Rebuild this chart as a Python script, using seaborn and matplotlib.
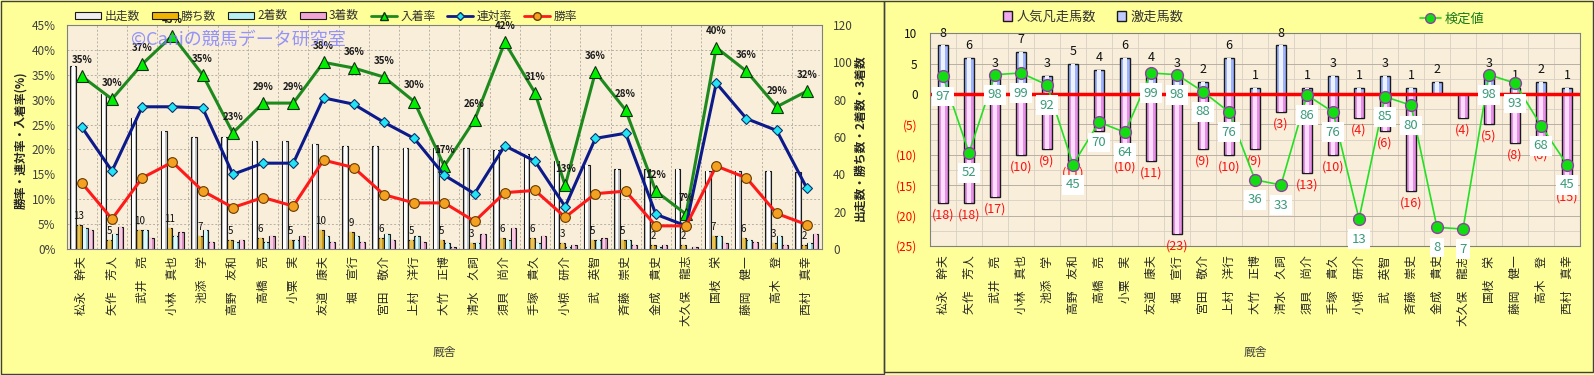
import numpy as np
import pandas as pd
import matplotlib
matplotlib.use('Agg')
import matplotlib.pyplot as plt
import seaborn as sns
from matplotlib.patches import Rectangle, Patch
from matplotlib.lines import Line2D
from matplotlib.ticker import MultipleLocator, FixedLocator, FuncFormatter

# data
trainers = ['松永　幹夫', '矢作　芳人', '武井　亮', '小林　真也', '池添　学', '高野　友和',
            '高橋　亮', '小栗　実', '友道　康夫', '堀　宣行', '宮田　敬介', '上村　洋行',
            '大竹　正博', '清水　久詞', '須貝　尚介', '手塚　貴久', '小椋　研介', '武　英智',
            '斉藤　崇史', '金成　貴史', '大久保　龍志', '国枝　栄', '藤岡　健一', '高木　登',
            '西村　真幸']
starts = [98, 83, 70, 63, 60, 60, 58, 58, 56, 55, 55, 54, 54, 54, 53, 51, 47, 45, 43, 43, 43, 42, 42, 42, 41]
wins = [13, 5, 10, 11, 7, 5, 6, 5, 10, 9, 6, 5, 5, 3, 6, 6, 3, 5, 5, 2, 2, 7, 6, 3, 2]
seconds = [11, 8, 10, 7, 10, 4, 4, 5, 7, 7, 8, 7, 3, 3, 5, 3, 1, 5, 5, 1, 0, 7, 5, 7, 3]
thirds = [10, 12, 6, 9, 4, 5, 7, 7, 4, 4, 5, 4, 1, 8, 11, 7, 2, 6, 2, 2, 1, 3, 4, 2, 8]

surge = [8, 6, 3, 7, 3, 5, 4, 6, 4, 3, 2, 6, 1, 8, 1, 3, 1, 3, 1, 2, 0, 3, 1, 2, 1]
flop = [18, 18, 17, 10, 9, 11, 6, 10, 11, 23, 9, 10, 9, 3, 13, 10, 4, 6, 16, 0, 4, 5, 8, 8, 15]
score = [97, 52, 98, 99, 92, 45, 70, 64, 99, 98, 88, 76, 36, 33, 86, 76, 13, 85, 80, 8, 7, 98, 93, 68, 45]

kinds = ['出走数', '勝ち数', '2着数', '3着数']

sns.set_style('white')
plt.rcParams['font.family'] = ['Noto Sans CJK JP', 'DejaVu Sans']

W, H = 1594, 375
BG = '#FFFF99'
PLOT_BG = '#F8EEDA'
GRID = '#B8B0A4'
fig = plt.figure(figsize=(W / 100, H / 100), dpi=100, facecolor=BG)

# panel frames
fig.add_artist(Rectangle((0.5 / W, 1.5 / H), 883 / W, (H - 2.5) / H, transform=fig.transFigure,
                         fill=False, edgecolor='#404040', lw=1))
fig.add_artist(Rectangle((883.5 / W, 3.5 / H), (W - 885) / W, (H - 4.5) / H, transform=fig.transFigure,
                         fill=False, edgecolor='#404040', lw=1))

n = len(trainers)
idx = np.arange(n)
st = np.array(starts, dtype=float)
win_rate = np.array(wins) / st * 100
ren_rate = (np.array(wins) + np.array(seconds)) / st * 100
place_rate = (np.array(wins) + np.array(seconds) + np.array(thirds)) / st * 100

# ---------------- left panel ----------------
ax = fig.add_axes([66.7 / W, (H - 249) / H, (822 - 66.7) / W, 224 / H])
ax.set_facecolor(PLOT_BG)
df_bars = pd.DataFrame({'厩舎': trainers * 4,
                        '種別': [k for k in kinds for _ in range(n)],
                        '数': starts + wins + seconds + thirds})
base_cols = ['#C4C4C4', '#E8A800', '#8ED8E0', '#E486C4']
light_cols = ['#FFFFFF', '#FFD040', '#D8FFFF', '#FFC4E4']
sns.barplot(data=df_bars, x='厩舎', y='数', hue='種別', order=trainers, hue_order=kinds,
            palette=base_cols, width=0.76, edgecolor='#1A1A1A', linewidth=0.8,
            errorbar=None, legend=False, ax=ax)
sns.barplot(data=df_bars, x='厩舎', y='数', hue='種別', order=trainers, hue_order=kinds,
            palette=light_cols, width=0.76, gap=0.5, linewidth=0,
            errorbar=None, legend=False, ax=ax)
ax.set_ylim(0, 120)
ax.yaxis.set_major_locator(MultipleLocator(20))
ax.yaxis.set_minor_locator(FixedLocator(np.arange(1, 9) * 120 / 9))
ax.xaxis.set_minor_locator(FixedLocator(np.arange(0.5, n - 1, 1)))
ax.grid(which='minor', axis='both', color=GRID, ls=(0, (2, 2)), lw=0.7)
ax.set_axisbelow(True)
ax.set_xticks(idx)
ax.set_xticklabels(trainers, rotation=90, fontsize=8.5)
ax.tick_params(axis='x', length=0, pad=5)
ax.set_xlabel('')
ax.set_ylabel('')
for s in ax.spines.values():
    s.set_color('#808080')

for i, w in enumerate(wins):
    ax.annotate(str(w), (i - 0.095, w), xytext=(0, 3), textcoords='offset points',
                ha='center', va='bottom', fontsize=7, color='#111111')

axl = ax.twinx()
# twinx moves the original ticks to the left: put the count axis back on the right
ax.yaxis.tick_right()
ax.tick_params(axis='y', which='major', labelsize=8.5, labelcolor='#404040', length=0, pad=8)
ax.tick_params(which='minor', length=0)
sns.lineplot(x=idx, y=place_rate, ax=axl, color='#1E8A1E', lw=2.2, marker='^', markersize=8,
             markerfacecolor='#00EE00', markeredgecolor='#103010', markeredgewidth=0.8)
sns.lineplot(x=idx, y=ren_rate, ax=axl, color='#0C1A8A', lw=2.2, marker='D', markersize=5.5,
             markerfacecolor='#22E4F4', markeredgecolor='#10306A', markeredgewidth=0.8)
sns.lineplot(x=idx, y=win_rate, ax=axl, color='#FF1A1A', lw=2.2, marker='o', markersize=7,
             markerfacecolor='#F4A020', markeredgecolor='#6A3A00', markeredgewidth=0.8)
axl.set_ylim(0, 45)
axl.yaxis.set_major_locator(MultipleLocator(5))
axl.yaxis.set_major_formatter(FuncFormatter(lambda v, p: f'{int(round(v))}%'))
axl.yaxis.tick_left()
axl.tick_params(axis='y', labelsize=8.5, labelcolor='#404040', length=0, pad=8)
axl.set_ylabel('')
for s in axl.spines.values():
    s.set_visible(False)
for i, r in enumerate(place_rate):
    axl.annotate(f'{round(r)}%', (i, r), xytext=(0, 8), textcoords='offset points',
                 ha='center', va='bottom', fontsize=7, fontweight='bold', color='#1A1A1A')
ax.set_xlim(-0.5, n - 0.5)

fig.text(238 / W, 1 - 40 / H, '©Caniの競馬データ研究室', color='#7C7CFF', alpha=0.8,
         fontsize=13, ha='center', va='center')
fig.text(21 / W, 1 - 140 / H, '勝率・連対率・入着率(%)', rotation=90, fontsize=8.5,
         fontweight='bold', ha='center', va='center')
fig.text(860 / W, 1 - 138 / H, '出走数・勝ち数・2着数・3着数', rotation=90, fontsize=8.5,
         fontweight='bold', ha='center', va='center')
fig.text(444 / W, 1 - 352 / H, '厩舎', fontsize=8.5, color='#404040', ha='center', va='center')

handles = [Patch(facecolor=c, edgecolor='#1A1A1A', lw=0.8) for c in ['#EEEEEE', '#F0B400', '#B8F0F4', '#F4A4D4']]
handles += [Line2D([], [], color='#1E8A1E', lw=2, marker='^', markersize=6, markerfacecolor='#00EE00', markeredgecolor='#103010'),
            Line2D([], [], color='#0C1A8A', lw=2, marker='D', markersize=4.5, markerfacecolor='#22E4F4', markeredgecolor='#10306A'),
            Line2D([], [], color='#FF1A1A', lw=2, marker='o', markersize=5.5, markerfacecolor='#F4A020', markeredgecolor='#6A3A00')]
fig.legend(handles, kinds + ['入着率', '連対率', '勝率'], loc='center', bbox_to_anchor=(326 / W, 1 - 16 / H),
           ncol=7, frameon=False, fontsize=8.5, handlelength=2.2, handleheight=0.5,
           columnspacing=1.0, handletextpad=0.3, labelcolor='#333333')

# ---------------- right panel ----------------
axr = fig.add_axes([930 / W, (H - 246) / H, 650 / W, 212.7 / H])
axr.set_facecolor(PLOT_BG)
df_r = pd.DataFrame({'厩舎': trainers, '激走': surge, '凡走': [-f for f in flop]})
sns.barplot(data=df_r, x='厩舎', y='凡走', order=trainers, color='#E890E8', width=0.4,
            edgecolor='#1A1A1A', linewidth=1, saturation=1, errorbar=None, ax=axr)
sns.barplot(data=df_r, x='厩舎', y='凡走', order=trainers, color='#FFDDFF', width=0.16,
            linewidth=0, saturation=1, errorbar=None, ax=axr)
sns.barplot(data=df_r, x='厩舎', y='激走', order=trainers, color='#9EB4FF', width=0.4,
            edgecolor='#1A1A1A', linewidth=1, saturation=1, errorbar=None, ax=axr)
sns.barplot(data=df_r, x='厩舎', y='激走', order=trainers, color='#EEF2FF', width=0.16,
            linewidth=0, saturation=1, errorbar=None, ax=axr)
axr.axhline(0, color='#FF0000', lw=2.5, zorder=2)
axr.set_ylim(-25, 10)
axr.set_yticks(np.arange(-25, 11, 5))
axr.set_yticklabels([f'({-v})' if v < 0 else str(v) for v in range(-25, 11, 5)])
for lab, v in zip(axr.get_yticklabels(), range(-25, 11, 5)):
    lab.set_color('#FF0000' if v < 0 else '#111111')
axr.tick_params(axis='y', labelsize=8.5, length=0, pad=9)
axr.yaxis.set_minor_locator(FixedLocator(np.arange(-22.5, 10, 5)))
axr.xaxis.set_minor_locator(FixedLocator(np.arange(0.5, n - 1, 1)))
axr.grid(which='major', axis='y', color=GRID, lw=0.7)
axr.grid(which='minor', axis='both', color='#D8D0C4', lw=0.6)
axr.set_axisbelow(True)
axr.tick_params(which='minor', length=0)
axr.set_xticks(idx)
axr.set_xticklabels(trainers, rotation=90, fontsize=8.5)
axr.tick_params(axis='x', length=0, pad=7)
axr.set_xlabel('')
axr.set_ylabel('')
for s in axr.spines.values():
    s.set_color('#808080')
for i, (s, f) in enumerate(zip(surge, flop)):
    if s > 0:
        axr.annotate(str(s), (i, s), xytext=(0, 4), textcoords='offset points',
                     ha='center', va='bottom', fontsize=9, color='#111111')
    if f > 0:
        axr.annotate(f'({f})', (i, -f), xytext=(0, -4), textcoords='offset points',
                     ha='center', va='top', fontsize=9, color='#FF1010')

axr2 = axr.twinx()
axr.yaxis.tick_left()
sns.lineplot(x=idx, y=score, ax=axr2, color='#22E022', lw=1.2, marker='o', markersize=8.5,
             markerfacecolor='#11DD11', markeredgecolor='#9040A0', markeredgewidth=1)
axr2.set_ylim(-3.0, 122.4)
axr2.set_yticks([])
axr2.set_ylabel('')
for s in axr2.spines.values():
    s.set_visible(False)
for i, v in enumerate(score):
    axr2.annotate(str(v), (i, v), xytext=(0, -14.5), textcoords='offset points',
                  ha='center', va='center', fontsize=9.5, color='#3A9A7A',
                  bbox=dict(boxstyle='square,pad=0.25', fc='white', ec='none'))
axr.set_xlim(-0.5, n - 0.5)

fig.text(1255 / W, 1 - 352 / H, '厩舎', fontsize=8.5, color='#404040', ha='center', va='center')

rh = [Patch(facecolor='#F0A8F0', edgecolor='#1A1A1A', lw=1), Patch(facecolor='#C0CCFF', edgecolor='#1A1A1A', lw=1)]
fig.legend(rh, ['人気凡走馬数', '激走馬数'], loc='center', bbox_to_anchor=(1093 / W, 1 - 17 / H),
           ncol=2, frameon=False, fontsize=9.5, handlelength=0.7, handleheight=0.7,
           columnspacing=1.6, handletextpad=0.3, labelcolor='#333333')
sh = [Line2D([], [], color='#22E022', lw=1.2, marker='o', markersize=7, markerfacecolor='#11DD11',
             markeredgecolor='#9040A0')]
fig.legend(sh, ['検定値'], loc='center', bbox_to_anchor=(1452 / W, 1 - 19 / H), frameon=False,
           fontsize=9.5, handlelength=1.6, handletextpad=0.3, labelcolor='#1A7A1A')

fig.savefig('out.png', dpi=100, facecolor=BG)
